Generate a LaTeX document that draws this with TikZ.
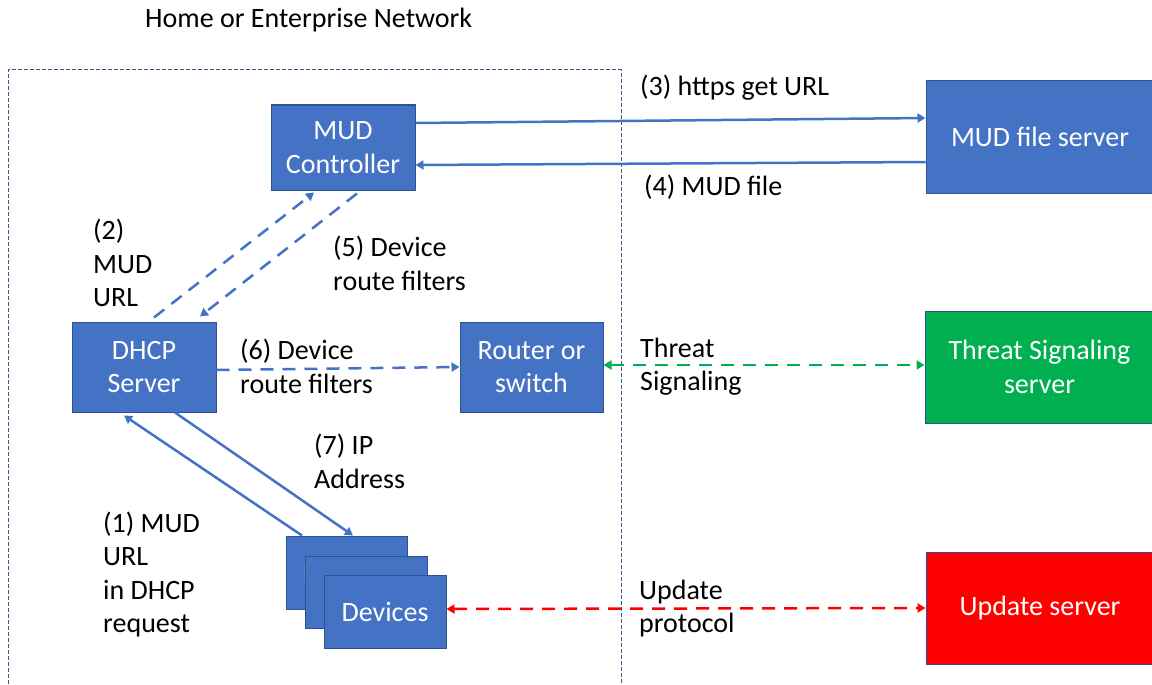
\documentclass[tikz,border=0pt]{standalone}
\usepackage{fontspec}
\setmainfont{Carlito}
\usetikzlibrary{arrows.meta}
\definecolor{boxblue}{HTML}{4472C4}
\definecolor{boxedge}{HTML}{2F528F}
\definecolor{sgreen}{HTML}{00B050}
\definecolor{sred}{HTML}{FF0000}
\definecolor{frameblue}{HTML}{3B5A8C}

\begin{document}
\begin{tikzpicture}[x=1pt,y=-1pt,
    font=\fontsize{28}{33.5}\selectfont,
    box/.style={draw=boxedge,line width=1pt,fill=boxblue,text=white,align=center,inner sep=0pt},
    lbl/.style={anchor=west,align=left,inner sep=0pt},
    tip/.style={-{Triangle[length=8pt,width=9pt]}},
    both/.style={{Triangle[length=8pt,width=9pt]}-{Triangle[length=8pt,width=9pt]}},
    flow/.style={line width=2.5pt,dash pattern=on 13pt off 9pt},
  ]
  \useasboundingbox (0,0) rectangle (1152,685);
  \draw[frameblue,line width=1pt,dash pattern=on 4pt off 2pt] (8,690) |- (621,70) -- (621,690);
  \node[lbl] (title) at (145,20) {Home or Enterprise Network};

  \node[box,minimum width=144pt,minimum height=85pt] (ctrl) at (343,147.5) {MUD\\Controller};
  \node[box,minimum width=228pt,minimum height=112pt] (mudsrv) at (1040,137) {MUD file server};
  \node[box,minimum width=144pt,minimum height=90pt] (dhcp) at (144,367) {DHCP\\Server};
  \node[box,minimum width=143pt,minimum height=90pt] (router) at (531.5,367) {Router or\\switch};
  \node[box,fill=sgreen,minimum width=229pt,minimum height=112pt] (threat) at (1039.5,367) {Threat Signaling\\server};
  \node[box,fill=sred,minimum width=228pt,minimum height=112pt] (upd) at (1040,608) {Update server};
  \node[box,minimum width=121pt,minimum height=73pt] (dev1) at (346.5,572.5) {Devices};
  \node[box,minimum width=122pt,minimum height=72pt] (dev2) at (366,592) {Devices};
  \node[box,minimum width=122pt,minimum height=73pt] (dev3) at (385,611.5) {Devices};

  \node[lbl] (l3) at (640,88) {(3) https get URL};
  \node[lbl] (l4) at (644,187) {(4) MUD file};
  \node[lbl] (l2) at (93,263) {(2)\\MUD\\URL};
  \node[lbl] (l5) at (333,263.5) {(5) Device\\route filters};
  \node[lbl] (l6) at (240,366.5) {(6) Device\\route filters};
  \node[lbl] (lthreat) at (640,366.5) {Threat\\Signaling};
  \node[lbl] (l7) at (314,461.5) {(7) IP\\Address};
  \node[lbl] (l1) at (103,574.5) {(1) MUD\\URL\\in DHCP\\request};
  \node[lbl] (lupd) at (639,608.5) {Update\\protocol};

  \draw[boxblue,line width=2.5pt,tip] ([yshift=24.5pt]ctrl.east) -- ([yshift=19pt]mudsrv.west);
  \draw[boxblue,line width=2.5pt,tip] ([yshift=-25pt]mudsrv.west) -- ([yshift=-17.5pt]ctrl.east);
  \draw[boxblue,flow,tip] ([xshift=10pt,yshift=4pt]dhcp.north) -- ([xshift=-29pt,yshift=-2pt]ctrl.south);
  \draw[boxblue,flow,tip] ([xshift=14pt,yshift=-3pt]ctrl.south) -- ([xshift=56pt,yshift=5pt]dhcp.north);
  \draw[boxblue,flow,tip] ([yshift=-3pt]dhcp.east) -- (router.west);
  \draw[sgreen,flow,both] ([yshift=2pt]router.east) -- ([yshift=2pt]threat.west);
  \draw[boxblue,line width=2.5pt,tip] ([xshift=-44.5pt]dev1.north) -- ([xshift=-20pt,yshift=-3pt]dhcp.south);
  \draw[boxblue,line width=2.5pt,tip] ([xshift=31pt]dhcp.south) -- ([xshift=6.5pt]dev1.north);
  \draw[sred,flow,both] ([yshift=2.5pt]dev3.east) -- (upd.west);
\end{tikzpicture}
\end{document}
